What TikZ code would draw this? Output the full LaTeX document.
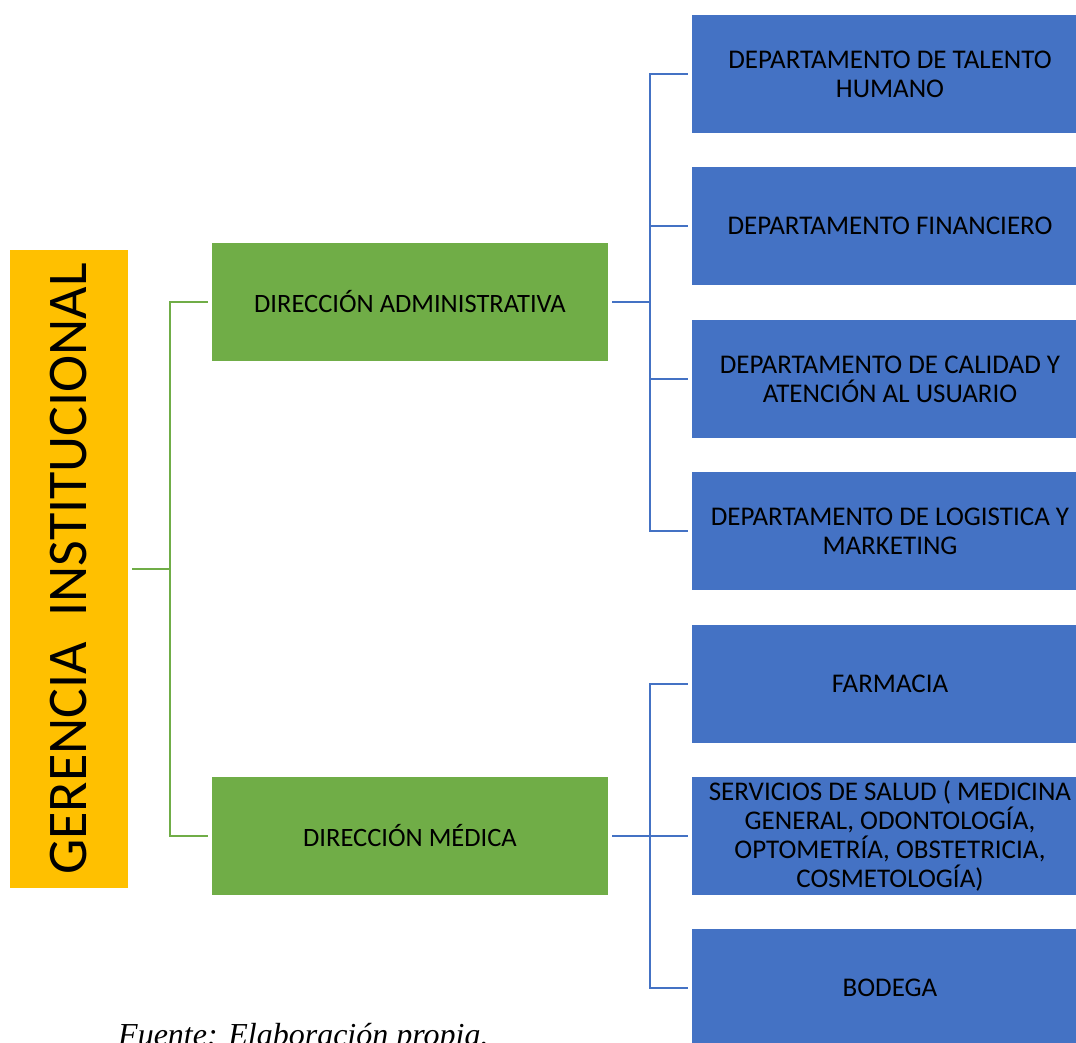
\documentclass[tikz,border=0pt]{standalone}
\usepackage{fontspec}
\setmainfont{Carlito}
\newfontfamily\timesit{Liberation Serif}
\definecolor{gold}{HTML}{FFC000}
\definecolor{grn}{HTML}{70AD47}
\definecolor{blu}{HTML}{4472C4}
\tikzset{
  gbox/.style={fill=grn, minimum width=396pt, minimum height=118pt, inner sep=0pt, font=\fontsize{26.5}{29}\selectfont, align=center},
  bbox/.style={fill=blu, minimum width=396pt, minimum height=118pt, inner sep=0pt, font=\fontsize{27}{29}\selectfont, align=center},
  gline/.style={draw=grn, line width=2.4pt},
  bline/.style={draw=blu, line width=2.6pt},
}
\begin{document}
\begin{tikzpicture}[x=1pt,y=-1pt]
\useasboundingbox (0,0) rectangle (1076,1043);
\clip (0,0) rectangle (1076,1043);
\fill[white] (0,0) rectangle (1076,1043);
% gold
\node[fill=gold, minimum width=118pt, minimum height=638pt, inner sep=0pt] (gi) at (69,569) {};
\node[rotate=90, font=\fontsize{56}{60}\selectfont] (git) at (69,569) {GERENCIA\ \ INSTITUCIONAL};
% green
\node[gbox] (da) at (410,302) {DIRECCIÓN ADMINISTRATIVA};
\node[gbox] (dm) at (410,836) {DIRECCIÓN MÉDICA};
% blue
\node[bbox] (b1) at (890,74) {DEPARTAMENTO DE TALENTO\\HUMANO};
\node[bbox] (b2) at (890,226) {DEPARTAMENTO FINANCIERO};
\node[bbox] (b3) at (890,379) {DEPARTAMENTO DE CALIDAD Y\\ATENCIÓN AL USUARIO};
\node[bbox] (b4) at (890,531) {DEPARTAMENTO DE LOGISTICA Y\\MARKETING};
\node[bbox] (b5) at (890,684) {FARMACIA};
\node[bbox] (b6) at (890,836) {SERVICIOS DE SALUD ( MEDICINA\\GENERAL, ODONTOLOGÍA,\\OPTOMETRÍA, OBSTETRICIA,\\COSMETOLOGÍA)};
\node[bbox] (b7) at (890,988) {BODEGA};
% green connectors
\coordinate (gj) at (170,569);
\draw[gline] ([xshift=4pt]gi.east) -- (gj);
\draw[gline] (da.west) ++(-4,0) -| (gj) |- ([xshift=-4pt]dm.west);
% blue connectors admin
\coordinate (aj) at (650,302);
\draw[bline] ([xshift=4pt]da.east) -- (aj);
\draw[bline] ([xshift=-4pt]b1.west) -| (aj) |- ([xshift=-4pt]b4.west);
\draw[bline] (aj |- b2.west) -- ([xshift=-4pt]b2.west);
\draw[bline] (aj |- b3.west) -- ([xshift=-4pt]b3.west);
% blue connectors medical
\coordinate (mj) at (650,836);
\draw[bline] ([xshift=4pt]dm.east) -- ([xshift=-4pt]b6.west);
\draw[bline] ([xshift=-4pt]b5.west) -| (mj) |- ([xshift=-4pt]b7.west);
% source
\node[anchor=base west, font=\timesit\itshape\fontsize{32}{34}\selectfont, inner sep=0pt] (src) at (118,1045) {Fuente: Elaboración propia.};
\end{tikzpicture}
\end{document}
